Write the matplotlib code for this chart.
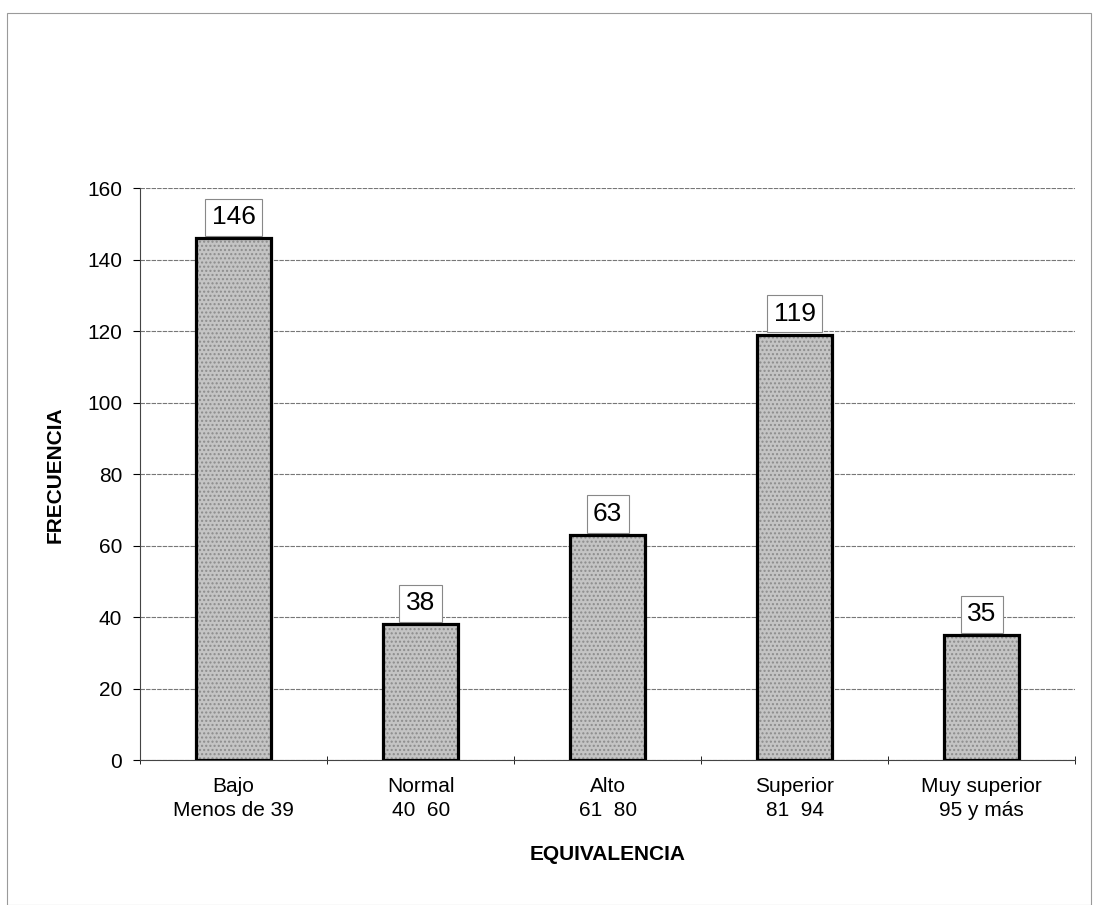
import matplotlib.pyplot as plt
import numpy as np
from matplotlib.patches import Rectangle

plt.rcParams['font.family'] = ['Liberation Sans', 'DejaVu Sans']

categorias = ['Bajo\nMenos de 39', 'Normal\n40  60', 'Alto\n61  80', 'Superior\n81  94', 'Muy superior\n95 y más']
frecuencia = [146, 38, 63, 119, 35]

fig = plt.figure(figsize=(10.95, 9.05), dpi=100)
ax = fig.add_axes([0.128, 0.160, 0.854, 0.632])

# marco exterior
fig.patches.append(Rectangle((0.006, 0.0), 0.99, 0.986, transform=fig.transFigure,
                             fill=False, edgecolor='#9a9a9a', lw=0.8))

x = np.arange(len(categorias))
bars = ax.bar(x, frecuencia, width=0.4, color='#c4c4c4', edgecolor='black', lw=2.3, zorder=3, hatch='....')
for b in bars:
    b._hatch_color = (0.55, 0.55, 0.55, 1)

for xi, v in zip(x, frecuencia):
    ax.text(xi, v + 2.5, str(v), ha='center', va='bottom', fontsize=19,
            bbox=dict(boxstyle='square,pad=0.25', fc='white', ec='#888888', lw=0.8))

ax.set_xlim(-0.5, len(categorias) - 0.5)
ax.set_ylim(0, 160)
ax.set_yticks(range(0, 161, 20))
ax.yaxis.grid(True, color='#777777', lw=0.8, ls=(0, (4, 1)), zorder=0)
ax.set_xticks(x)
ax.set_xticklabels(categorias, fontsize=15, linespacing=1.35)
ax.set_xticks(np.arange(-0.5, len(categorias), 1), minor=True)
ax.tick_params(axis='x', which='major', length=0, pad=12)
ax.tick_params(axis='x', which='minor', length=6, direction='inout')
ax.tick_params(axis='y', labelsize=15, length=5, direction='out', pad=8)

for s in ['top', 'right']:
    ax.spines[s].set_visible(False)
ax.spines['left'].set_color('#444444')
ax.spines['bottom'].set_color('#444444')

ax.set_ylabel('FRECUENCIA', fontsize=15, fontweight='bold', labelpad=16)
ax.set_xlabel('EQUIVALENCIA', fontsize=15, fontweight='bold', labelpad=18)

fig.savefig('out.png', dpi=100)
